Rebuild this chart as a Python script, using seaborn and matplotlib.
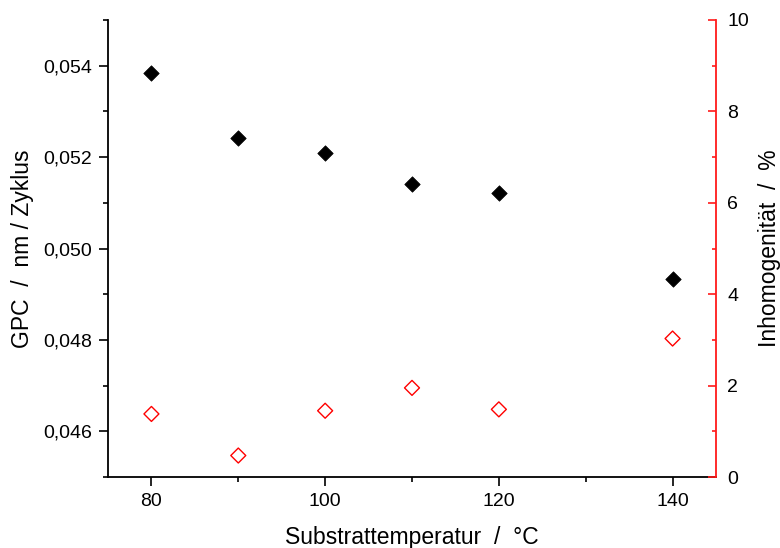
import matplotlib
matplotlib.use("Agg")
import matplotlib.pyplot as plt
import pandas as pd
import seaborn as sns
from matplotlib.ticker import MultipleLocator, FuncFormatter

# Substrate temperature series
temperature = [80, 90, 100, 110, 120, 140]
gpc = [0.05384, 0.05242, 0.05209, 0.05142, 0.05122, 0.04933]
inhomogeneity = [1.38, 0.47, 1.45, 1.95, 1.48, 3.03]

sns.set_theme(style="ticks")
plt.rcParams["font.family"] = ["Liberation Sans", "DejaVu Sans"]
plt.rcParams["axes.edgecolor"] = "black"
plt.rcParams["axes.labelcolor"] = "black"
plt.rcParams["text.color"] = "black"
plt.rcParams["xtick.color"] = "black"
plt.rcParams["ytick.color"] = "black"

df = pd.DataFrame({"T": temperature, "GPC": gpc, "Inh": inhomogeneity})

fig = plt.figure(figsize=(7.8, 5.48), dpi=100)
ax = fig.add_axes([108 / 780, 71 / 548, 608 / 780, 457 / 548])
ax2 = ax.twinx()

sns.scatterplot(data=df, x="T", y="GPC", ax=ax, marker="D", s=62,
                color="black", edgecolor="black", linewidth=0.5, legend=False,
                zorder=3)
sns.scatterplot(data=df, x="T", y="Inh", ax=ax2, marker="D", s=58,
                color="red", facecolor="none", edgecolor="red", linewidth=1.0,
                legend=False, zorder=3)

ax.set_xlim(75, 145)
ax.set_ylim(0.045, 0.055)
ax2.set_ylim(0, 10)

ax.xaxis.set_major_locator(MultipleLocator(20))
ax.xaxis.set_minor_locator(MultipleLocator(10))
ax.yaxis.set_major_locator(MultipleLocator(0.002))
ax.yaxis.set_minor_locator(MultipleLocator(0.001))
ax.yaxis.set_major_formatter(FuncFormatter(lambda v, p: f"{v:.3f}".replace(".", ",")))
ax2.yaxis.set_major_locator(MultipleLocator(2))
ax2.yaxis.set_minor_locator(MultipleLocator(1))

for s in ["top", "right"]:
    ax.spines[s].set_visible(False)
for s in ["top", "left", "bottom"]:
    ax2.spines[s].set_visible(False)
ax.spines["left"].set_linewidth(1.3)
ax.spines["bottom"].set_linewidth(1.3)
ax2.spines["right"].set_color("#ff1a1a")
ax2.spines["right"].set_linewidth(1.3)

ax.tick_params(axis="both", which="major", direction="out", length=6.5,
               width=1.2, labelsize=14, pad=5, labelcolor="black")
ax.tick_params(axis="both", which="minor", direction="out", length=3.5, width=1.2)
ax2.tick_params(axis="y", which="major", direction="in", length=6, width=1.2,
                color="#ff1a1a", labelcolor="black", labelsize=14, pad=8)
ax2.tick_params(axis="y", which="minor", direction="in", length=3, width=1.2,
                color="#ff1a1a")

ax.set_xlabel("Substrattemperatur  /  °C", fontsize=16.5, color="black")
ax.set_ylabel("GPC  /  nm / Zyklus", fontsize=16.5, color="black")
ax2.set_ylabel("Inhomogenität  /  %", fontsize=16.5, color="black")
ax.yaxis.set_label_coords((34 - 108) / 608, 0.5)
ax2.yaxis.set_label_coords((758 - 108) / 608, 0.5)
ax.xaxis.set_label_coords(0.5, (477 - 526) / 457)

ax.grid(False)
ax2.grid(False)

fig.savefig("out.png", dpi=100)
